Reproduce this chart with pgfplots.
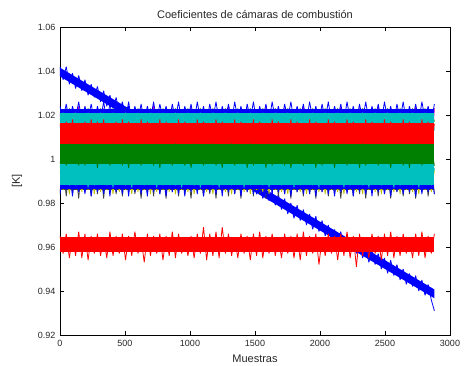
\documentclass[border=0pt]{standalone}
\usepackage{fontspec}
\setmainfont{Liberation Sans}
\usepackage{pgfplots}
\usepackage{pgfplotstable}
\pgfplotsset{compat=1.18}
\definecolor{mblue}{rgb}{0,0,1}
\definecolor{mgreen}{rgb}{0,0.5,0}
\definecolor{mred}{rgb}{1,0,0}
\definecolor{mcyan}{rgb}{0,0.75,0.75}
\definecolor{mmag}{rgb}{0.75,0,0.75}
\definecolor{molive}{rgb}{0.75,0.75,0}
\definecolor{mgray}{rgb}{0.25,0.25,0.25}
\pgfplotstableread{
x mg gr ol bl cl gt bt ct rd gm rl tr
0 1.021 0.985 0.995 0.984 0.997 1.018 1.024 1.014 1.016 0.998 0.965 1.042
24 1.007 0.996 0.986 0.995 0.989 1.022 1.018 1.021 1.006 1.006 0.957 1.036
48 1.023 0.983 0.997 0.986 0.998 1.017 1.025 1.013 1.017 0.997 0.966 1.042
72 1.005 0.997 0.984 0.996 0.988 1.023 1.017 1.020 1.005 1.007 0.955 1.034
96 1.019 0.984 0.996 0.983 0.996 1.018 1.024 1.014 1.018 0.998 0.964 1.039
120 1.008 0.995 0.987 0.997 0.988 1.022 1.019 1.021 1.006 1.005 0.956 1.032
144 1.024 0.982 0.998 0.985 0.999 1.017 1.026 1.013 1.016 0.997 0.967 1.038
168 1.006 0.998 0.985 0.996 0.989 1.021 1.017 1.020 1.004 1.007 0.955 1.031
192 1.020 0.985 0.996 0.984 0.997 1.018 1.024 1.012 1.017 0.997 0.966 1.036
216 1.005 0.996 0.986 0.997 0.987 1.023 1.018 1.021 1.005 1.006 0.954 1.029
240 1.022 0.983 0.995 0.983 0.998 1.017 1.025 1.014 1.018 0.998 0.965 1.034
264 1.007 0.997 0.984 0.995 0.988 1.022 1.017 1.020 1.006 1.007 0.957 1.028
288 1.021 0.984 0.997 0.985 0.997 1.017 1.024 1.013 1.017 0.996 0.966 1.033
312 1.004 0.996 0.985 0.996 0.989 1.023 1.018 1.021 1.004 1.006 0.956 1.026
336 1.023 0.982 0.996 0.984 0.998 1.018 1.026 1.014 1.018 0.998 0.964 1.031
360 1.006 0.998 0.986 0.997 0.988 1.022 1.017 1.020 1.005 1.005 0.955 1.024
384 1.019 0.985 0.995 0.983 0.996 1.017 1.025 1.013 1.016 0.997 0.967 1.029
408 1.008 0.995 0.984 0.996 0.987 1.023 1.018 1.021 1.006 1.007 0.956 1.023
432 1.024 0.984 0.998 0.985 0.998 1.018 1.024 1.012 1.017 0.998 0.965 1.028
456 1.005 0.997 0.985 0.995 0.989 1.022 1.017 1.020 1.004 1.006 0.957 1.021
480 1.021 0.983 0.996 0.984 0.997 1.017 1.025 1.014 1.018 0.997 0.966 1.026
504 1.006 0.996 0.986 0.997 0.988 1.023 1.018 1.021 1.005 1.007 0.954 1.019
528 1.022 0.985 0.997 0.983 0.998 1.018 1.026 1.013 1.017 0.996 0.965 1.024
552 1.007 0.998 0.984 0.996 0.987 1.022 1.017 1.020 1.006 1.006 0.956 1.017
576 1.020 0.984 0.995 0.985 0.997 1.017 1.024 1.014 1.016 0.998 0.967 1.022
600 1.004 0.995 0.985 0.997 0.989 1.023 1.018 1.021 1.004 1.005 0.957 1.016
624 1.023 0.982 0.998 0.984 0.998 1.018 1.025 1.013 1.018 0.997 0.964 1.021
648 1.006 0.997 0.986 0.995 0.988 1.021 1.017 1.020 1.005 1.007 0.953 1.014
672 1.021 0.985 0.996 0.983 0.996 1.017 1.024 1.012 1.017 0.998 0.966 1.019
696 1.008 0.996 0.984 0.996 0.989 1.023 1.018 1.021 1.006 1.006 0.956 1.012
720 1.024 0.983 0.997 0.985 0.997 1.018 1.026 1.014 1.016 0.997 0.965 1.017
744 1.005 0.998 0.985 0.997 0.987 1.022 1.017 1.020 1.004 1.007 0.957 1.011
768 1.020 0.984 0.995 0.984 0.998 1.017 1.025 1.013 1.018 0.996 0.966 1.015
792 1.007 0.995 0.986 0.996 0.988 1.023 1.018 1.021 1.005 1.005 0.954 1.009
816 1.022 0.982 0.996 0.983 0.997 1.018 1.024 1.014 1.017 0.998 0.965 1.013
840 1.006 0.997 0.985 0.997 0.989 1.022 1.017 1.020 1.006 1.006 0.956 1.007
864 1.023 0.985 0.998 0.985 0.996 1.017 1.025 1.012 1.016 0.997 0.967 1.012
888 1.004 0.996 0.984 0.995 0.988 1.023 1.018 1.021 1.004 1.007 0.955 1.006
912 1.021 0.983 0.997 0.984 0.998 1.018 1.026 1.013 1.018 0.998 0.966 1.010
936 1.008 0.998 0.986 0.996 0.987 1.021 1.017 1.020 1.005 1.005 0.957 1.004
960 1.019 0.984 0.995 0.983 0.997 1.017 1.024 1.014 1.017 0.997 0.964 1.009
984 1.005 0.995 0.985 0.997 0.989 1.023 1.018 1.021 1.006 1.006 0.956 1.002
1008 1.024 0.982 0.996 0.985 0.998 1.018 1.025 1.013 1.016 0.996 0.965 1.007
1032 1.006 0.997 0.984 0.996 0.988 1.022 1.017 1.020 1.004 1.007 0.955 1.001
1056 1.022 0.985 0.997 0.984 0.997 1.017 1.026 1.012 1.018 0.998 0.966 1.005
1080 1.007 0.996 0.986 0.997 0.987 1.023 1.018 1.021 1.005 1.005 0.957 0.999
1104 1.020 0.983 0.995 0.983 0.998 1.018 1.024 1.014 1.017 0.997 0.969 1.004
1128 1.005 0.998 0.985 0.995 0.989 1.022 1.017 1.020 1.006 1.006 0.954 0.997
1152 1.023 0.984 0.998 0.985 0.996 1.017 1.025 1.013 1.016 0.998 0.966 1.002
1176 1.004 0.996 0.984 0.996 0.988 1.023 1.018 1.021 1.004 1.007 0.956 0.996
1200 1.021 0.982 0.996 0.984 0.998 1.018 1.026 1.012 1.018 0.997 0.967 1.001
1224 1.008 0.997 0.986 0.997 0.987 1.021 1.017 1.020 1.005 1.005 0.955 0.994
1248 1.019 0.985 0.997 0.983 0.997 1.017 1.024 1.014 1.017 0.996 0.969 0.999
1272 1.006 0.995 0.985 0.996 0.989 1.023 1.018 1.021 1.006 1.006 0.957 0.993
1296 1.024 0.983 0.995 0.985 0.998 1.018 1.025 1.013 1.016 0.998 0.966 0.997
1320 1.005 0.998 0.984 0.995 0.988 1.022 1.017 1.020 1.004 1.007 0.956 0.991
1344 1.022 0.984 0.996 0.984 0.996 1.017 1.026 1.014 1.018 0.997 0.964 0.996
1368 1.007 0.996 0.986 0.997 0.989 1.023 1.018 1.021 1.005 1.005 0.955 0.990
1392 1.020 0.982 0.997 0.983 0.997 1.018 1.024 1.012 1.017 0.998 0.966 0.994
1416 1.004 0.997 0.985 0.996 0.987 1.021 1.017 1.020 1.006 1.006 0.957 0.988
1440 1.023 0.985 0.998 0.985 0.998 1.017 1.025 1.013 1.016 0.996 0.965 0.992
1464 1.006 0.995 0.984 0.997 0.988 1.023 1.018 1.021 1.004 1.007 0.954 0.986
1488 1.021 0.983 0.996 0.984 0.997 1.018 1.026 1.014 1.018 0.997 0.966 0.991
1512 1.008 0.998 0.986 0.995 0.989 1.022 1.017 1.020 1.005 1.005 0.956 0.984
1536 1.019 0.984 0.995 0.985 0.996 1.017 1.024 1.013 1.017 0.998 0.967 0.989
1560 1.005 0.996 0.985 0.996 0.988 1.023 1.018 1.021 1.006 1.006 0.955 0.982
1584 1.024 0.982 0.997 0.983 0.998 1.018 1.025 1.012 1.016 0.996 0.965 0.987
1608 1.006 0.997 0.984 0.997 0.987 1.021 1.017 1.020 1.004 1.007 0.957 0.981
1632 1.022 0.985 0.996 0.984 0.997 1.017 1.026 1.014 1.018 0.997 0.966 0.985
1656 1.007 0.996 0.986 0.996 0.989 1.023 1.018 1.021 1.005 1.005 0.956 0.979
1680 1.020 0.983 0.998 0.985 0.998 1.018 1.024 1.013 1.017 0.998 0.964 0.984
1704 1.004 0.998 0.985 0.995 0.988 1.022 1.017 1.020 1.006 1.006 0.955 0.977
1728 1.023 0.984 0.995 0.984 0.996 1.017 1.025 1.014 1.016 0.997 0.966 0.982
1752 1.005 0.995 0.984 0.997 0.989 1.023 1.018 1.021 1.004 1.007 0.957 0.975
1776 1.021 0.982 0.997 0.983 0.997 1.018 1.026 1.012 1.018 0.996 0.965 0.980
1800 1.008 0.997 0.986 0.996 0.987 1.021 1.017 1.020 1.005 1.005 0.955 0.973
1824 1.019 0.985 0.996 0.985 0.998 1.017 1.024 1.013 1.017 0.998 0.966 0.979
1848 1.006 0.996 0.985 0.997 0.988 1.023 1.018 1.021 1.006 1.006 0.954 0.972
1872 1.024 0.983 0.998 0.984 0.997 1.018 1.025 1.014 1.016 0.997 0.967 0.977
1896 1.007 0.998 0.984 0.995 0.989 1.022 1.017 1.020 1.004 1.007 0.956 0.970
1920 1.022 0.984 0.995 0.984 0.996 1.017 1.026 1.012 1.018 0.998 0.965 0.975
1944 1.005 0.995 0.986 0.997 0.988 1.023 1.018 1.021 1.005 1.005 0.957 0.968
1968 1.020 0.982 0.997 0.983 0.998 1.018 1.024 1.013 1.017 0.996 0.966 0.974
1992 1.006 0.997 0.985 0.996 0.987 1.021 1.017 1.020 1.006 1.006 0.952 0.967
2016 1.023 0.985 0.996 0.985 0.997 1.017 1.025 1.014 1.016 0.997 0.964 0.972
2040 1.004 0.996 0.984 0.997 0.989 1.023 1.018 1.021 1.004 1.007 0.956 0.965
2064 1.021 0.983 0.998 0.984 0.998 1.018 1.026 1.012 1.018 0.998 0.966 0.970
2088 1.008 0.998 0.986 0.995 0.988 1.022 1.017 1.020 1.005 1.005 0.957 0.963
2112 1.019 0.984 0.995 0.983 0.996 1.017 1.024 1.014 1.017 0.996 0.965 0.968
2136 1.005 0.995 0.985 0.996 0.989 1.023 1.018 1.021 1.006 1.006 0.954 0.962
2160 1.024 0.982 0.997 0.985 0.997 1.018 1.025 1.013 1.016 0.998 0.966 0.967
2184 1.006 0.997 0.984 0.997 0.987 1.021 1.017 1.020 1.004 1.007 0.956 0.960
2208 1.022 0.985 0.996 0.984 0.998 1.017 1.026 1.014 1.018 0.997 0.967 0.965
2232 1.007 0.996 0.986 0.996 0.988 1.023 1.018 1.021 1.005 1.005 0.955 0.958
2256 1.020 0.983 0.998 0.983 0.997 1.018 1.024 1.012 1.017 0.998 0.965 0.963
2280 1.004 0.998 0.985 0.997 0.989 1.022 1.017 1.020 1.006 1.006 0.951 0.957
2304 1.023 0.984 0.995 0.985 0.996 1.017 1.025 1.013 1.016 0.996 0.966 0.962
2328 1.005 0.995 0.984 0.995 0.988 1.023 1.018 1.021 1.004 1.007 0.956 0.955
2352 1.021 0.982 0.997 0.984 0.998 1.018 1.026 1.014 1.018 0.997 0.964 0.960
2376 1.008 0.997 0.986 0.996 0.987 1.021 1.017 1.020 1.005 1.005 0.955 0.953
2400 1.019 0.985 0.996 0.983 0.997 1.017 1.024 1.012 1.017 0.998 0.966 0.959
2424 1.006 0.996 0.985 0.997 0.989 1.023 1.018 1.021 1.006 1.006 0.957 0.952
2448 1.024 0.983 0.998 0.985 0.998 1.018 1.025 1.013 1.016 0.997 0.965 0.957
2472 1.007 0.998 0.984 0.995 0.988 1.022 1.017 1.020 1.004 1.007 0.954 0.950
2496 1.022 0.984 0.995 0.984 0.996 1.017 1.026 1.014 1.018 0.998 0.966 0.955
2520 1.005 0.995 0.986 0.996 0.989 1.023 1.018 1.021 1.005 1.005 0.956 0.948
2544 1.020 0.982 0.997 0.983 0.997 1.018 1.024 1.012 1.017 0.996 0.967 0.954
2568 1.004 0.997 0.985 0.997 0.987 1.021 1.017 1.020 1.006 1.006 0.955 0.947
2592 1.023 0.985 0.996 0.985 0.998 1.017 1.025 1.013 1.016 0.998 0.965 0.952
2616 1.006 0.996 0.984 0.996 0.988 1.023 1.018 1.021 1.004 1.007 0.956 0.945
2640 1.021 0.983 0.998 0.984 0.997 1.018 1.026 1.014 1.018 0.997 0.966 0.950
2664 1.008 0.998 0.986 0.995 0.989 1.022 1.017 1.020 1.005 1.005 0.957 0.943
2688 1.019 0.984 0.995 0.985 0.996 1.017 1.024 1.012 1.017 0.996 0.964 0.948
2712 1.005 0.995 0.985 0.997 0.988 1.023 1.018 1.021 1.006 1.006 0.955 0.942
2736 1.024 0.982 0.997 0.983 0.998 1.018 1.025 1.013 1.016 0.998 0.966 0.947
2760 1.006 0.997 0.984 0.996 0.987 1.021 1.017 1.020 1.004 1.007 0.956 0.940
2784 1.022 0.985 0.996 0.984 0.997 1.017 1.026 1.014 1.018 0.997 0.967 0.945
2808 1.007 0.996 0.986 0.997 0.989 1.023 1.018 1.021 1.005 1.005 0.955 0.938
2832 1.020 0.983 0.998 0.985 0.998 1.018 1.024 1.012 1.017 0.998 0.965 0.943
2856 1.004 0.998 0.985 0.995 0.988 1.022 1.017 1.020 1.006 1.006 0.957 0.936
2880 1.023 0.984 0.995 0.984 0.996 1.017 1.025 1.013 1.016 0.997 0.966 0.931
}\data
\begin{document}
\begin{tikzpicture}
\begin{axis}[
  at={(0,0)}, anchor=south west,
  scale only axis, width=390pt, height=308pt,
  xmin=0, xmax=3000, ymin=0.92, ymax=1.06,
  xtick={0,500,1000,1500,2000,2500,3000},
  xticklabels={0,500,1000,1500,2000,2500,3000},
  ytick={0.92,0.94,0.96,0.98,1,1.02,1.04,1.06},
  yticklabels={0.92,0.94,0.96,0.98,1,1.02,1.04,1.06},
  tick align=inside, major tick length=4pt,
  tick style={black, line width=0.5pt},
  axis line style={black, line width=0.6pt},
  ticklabel style={font=\fontsize{9}{10}\selectfont, text=black!85},
  xticklabel style={yshift=-2pt},
  yticklabel style={xshift=-1pt},
  title={Coeficientes de cámaras de combustión},
  title style={font=\fontsize{11}{13}\selectfont, at={(axis description cs:0.5,1.045)}, anchor=center, yshift=-7pt, text=black!85},
  xlabel={Muestras},
  xlabel style={font=\fontsize{11}{13}\selectfont, at={(axis description cs:0.5,-0.078)}, anchor=center, text=black!85},
  ylabel={[K]},
  ylabel style={font=\fontsize{11}{13}\selectfont, at={(axis description cs:-0.11,0.5)}, anchor=center, text=black!85},
  every axis plot/.append style={line width=0.8pt, line join=bevel},
  core/.style={fill=#1, draw=none, line width=0pt},
]
% blue (trend), drawn first so the bands hide it
\addplot[core=mblue] coordinates {(0,1.0415) (2880,0.9407) (2880,0.9367) (0,1.0375)};
\addplot[mblue] table[x=x,y=tr]{\data};
% magenta
\addplot[core=mmag] coordinates {(0,1.010) (2880,1.010) (2880,1.018) (0,1.018)};
\addplot[mmag] table[x=x,y=mg]{\data};
% gray
\addplot[core=mgray] coordinates {(0,0.986) (2880,0.986) (2880,0.992) (0,0.992)};
\addplot[mgray] table[x=x,y=gr]{\data};
% olive
\addplot[core=molive] coordinates {(0,0.988) (2880,0.988) (2880,0.994) (0,0.994)};
\addplot[molive] table[x=x,y=ol]{\data};
% blue (lower)
\addplot[core=mblue] coordinates {(0,0.9865) (2880,0.9865) (2880,0.9900) (0,0.9900)};
\addplot[mblue] table[x=x,y=bl]{\data};
% cyan (lower)
\addplot[core=mcyan] coordinates {(0,0.9882) (2880,0.9882) (2880,0.9980) (0,0.9980)};
\addplot[mcyan] table[x=x,y=cl]{\data};
% green (upper)
\addplot[mgreen] table[x=x,y=gt]{\data};
% blue (upper)
\addplot[core=mblue] coordinates {(0,1.0205) (2880,1.0205) (2880,1.0225) (0,1.0225)};
\addplot[mblue] table[x=x,y=bt]{\data};
% cyan (upper)
\addplot[core=mcyan] coordinates {(0,1.0160) (2880,1.0160) (2880,1.0210) (0,1.0210)};
\addplot[mcyan] table[x=x,y=ct]{\data};
% red (middle)
\addplot[core=mred] coordinates {(0,1.0065) (2880,1.0065) (2880,1.0163) (0,1.0163)};
\addplot[mred] table[x=x,y=rd]{\data};
% green (middle)
\addplot[core=mgreen] coordinates {(0,0.9975) (2880,0.9975) (2880,1.0067) (0,1.0067)};
\addplot[mgreen] table[x=x,y=gm]{\data};
% red (low)
\addplot[core=mred] coordinates {(0,0.9575) (2880,0.9575) (2880,0.9645) (0,0.9645)};
\addplot[mred] table[x=x,y=rl]{\data};
\end{axis}
\pgfresetboundingbox
\path (-60pt,-31pt) rectangle (406pt,335pt);
\end{tikzpicture}
\end{document}
